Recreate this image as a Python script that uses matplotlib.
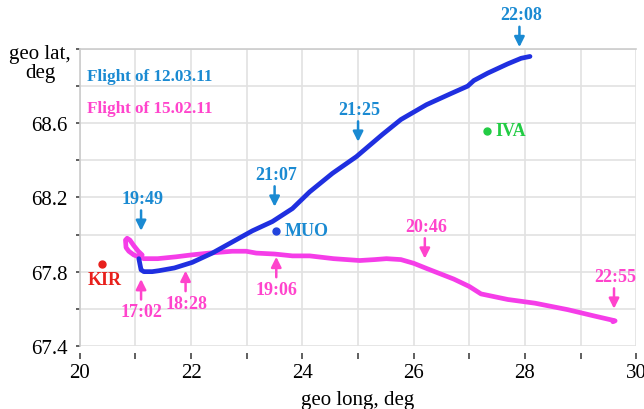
import matplotlib
matplotlib.use("Agg")
import matplotlib.pyplot as plt

# Flight of 12.03.11 (blue)
blue_lon = [21.06, 21.08, 21.10, 21.15, 21.30, 21.42, 21.70, 22.02, 22.38, 22.74, 23.10,
            23.46, 23.82, 24.13, 24.54, 24.97, 25.44, 25.77, 26.23, 26.67, 26.97, 27.08,
            27.33, 27.69, 27.93, 28.09]
blue_lat = [67.87, 67.84, 67.81, 67.80, 67.80, 67.805, 67.82, 67.85, 67.90, 67.96, 68.02,
            68.07, 68.14, 68.23, 68.33, 68.42, 68.54, 68.62, 68.70, 68.76, 68.80, 68.83,
            68.87, 68.92, 68.95, 68.96]

# Flight of 15.02.11 (magenta)
mag_lon = [21.12, 21.05, 20.97, 20.90, 20.85, 20.82, 20.83, 20.88, 20.97, 21.06, 21.15,
           21.40, 21.73, 22.00, 22.32, 22.74, 22.99, 23.17, 23.50, 23.82, 24.13, 24.56,
           25.03, 25.30, 25.51, 25.77, 26.00, 26.25, 26.72, 27.00, 27.21, 27.69, 28.18,
           28.77, 29.26, 29.55, 29.62, 29.58]
mag_lat = [67.89, 67.91, 67.94, 67.97, 67.98, 67.97, 67.93, 67.91, 67.89, 67.88, 67.87,
           67.87, 67.88, 67.89, 67.90, 67.91, 67.91, 67.90, 67.895, 67.885, 67.885, 67.87,
           67.86, 67.865, 67.87, 67.865, 67.845, 67.815, 67.76, 67.72, 67.68, 67.65, 67.63,
           67.595, 67.56, 67.54, 67.535, 67.53]

# Stations
st_names = ["KIR", "MUO", "IVA"]
st_lon = [20.40, 23.53, 27.32]
st_lat = [67.84, 68.02, 68.56]

# Time marks
blue_times = ["19:49", "21:07", "21:25", "22:08"]
blue_t_lon = [21.1, 23.5, 25.0, 27.9]
blue_t_lat = [68.02, 68.15, 68.50, 69.01]

mag_up_times = ["17:02", "18:28", "19:06"]
mag_up_lon = [21.1, 21.9, 23.53]
mag_up_lat = [67.76, 67.805, 67.88]

mag_dn_times = ["20:46", "22:55"]
mag_dn_lon = [26.2, 29.6]
mag_dn_lat = [67.87, 67.60]

BLUE_TRACK = "#1f2fe0"
BLUE_TXT = "#1a8ad2"
MAG = "#f53de8"
MAG_TXT = "#ff44cc"

plt.rcParams['font.family'] = ['Liberation Serif', 'DejaVu Serif']

fig = plt.figure(figsize=(6.44, 4.10), dpi=100)
ax = fig.add_axes([0.124, 0.154, 0.864, 0.724])

ax.set_xlim(20, 30)
ax.set_ylim(67.4, 69.0)
ax.set_xticks([20 + i for i in range(11)])
ax.set_xticklabels([str(20 + i) if i % 2 == 0 else "" for i in range(11)])
yt = [67.4 + 0.2 * i for i in range(9)]
ax.set_yticks(yt)
ax.set_yticklabels(["%.1f" % v if i % 2 == 0 and i < 8 else "" for i, v in enumerate(yt)])
ax.grid(True, color="#e2e2e2", lw=1.2)
ax.set_axisbelow(True)
ax.spines["right"].set_visible(False)
ax.spines["bottom"].set_visible(False)
ax.spines["bottom"].set_position(("outward", 5))
for s in ["top", "left"]:
    ax.spines[s].set_color("#cccccc")
    ax.spines[s].set_linewidth(1.2)
ax.tick_params(axis="both", labelsize=15, length=4, width=1.2, color="#444444")
ax.tick_params(axis="x", pad=3)
ax.tick_params(axis="y", length=3, pad=6)

ax.plot(mag_lon, mag_lat, color=MAG, lw=3.4, solid_joinstyle="round", solid_capstyle="round")
ax.plot(blue_lon, blue_lat, color=BLUE_TRACK, lw=3.4, solid_joinstyle="round", solid_capstyle="round")

# stations
st_col = ["#e8201c", "#2244dd", "#22cc44"]
st_txt_col = ["#e8201c", "#1a8ad2", "#22cc44"]
for n, x, y, c, tc in zip(st_names, st_lon, st_lat, st_col, st_txt_col):
    ax.plot(x, y, "o", color=c, ms=5)
    if n == "KIR":
        ax.text(x + 0.04, y - 0.035, n, color=tc, fontsize=13, fontweight="bold",
                ha="center", va="top")
    else:
        ax.text(x + 0.15, y, n, color=tc, fontsize=13, fontweight="bold",
                ha="left", va="center")

arrow_len = 0.11
text_gap = 0.065

def down_mark(lbl, x, y, col, tcol):
    ax.annotate("", xy=(x, y), xytext=(x, y + arrow_len),
                arrowprops=dict(arrowstyle="-|>", color=col, lw=1.8, mutation_scale=15,
                                shrinkA=0, shrinkB=0), annotation_clip=False)
    ax.text(x + 0.03, y + arrow_len + text_gap, lbl, color=tcol, fontsize=13,
            fontweight="bold", ha="center", va="center", clip_on=False)

def up_mark(lbl, x, y, col, tcol):
    ax.annotate("", xy=(x, y), xytext=(x, y - arrow_len),
                arrowprops=dict(arrowstyle="-|>", color=col, lw=1.8, mutation_scale=15,
                                shrinkA=0, shrinkB=0), annotation_clip=False)
    ax.text(x + 0.01, y - arrow_len - text_gap, lbl, color=tcol, fontsize=13,
            fontweight="bold", ha="center", va="center", clip_on=False)

for l, x, y in zip(blue_times, blue_t_lon, blue_t_lat):
    down_mark(l, x, y, BLUE_TXT, BLUE_TXT)
for l, x, y in zip(mag_up_times, mag_up_lon, mag_up_lat):
    up_mark(l, x, y, MAG_TXT, MAG_TXT)
for l, x, y in zip(mag_dn_times, mag_dn_lon, mag_dn_lat):
    down_mark(l, x, y, MAG_TXT, MAG_TXT)

# legend-like titles
ax.text(0.012, 0.91, "Flight of 12.03.11", transform=ax.transAxes, color=BLUE_TXT,
        fontsize=12.3, fontweight="bold", ha="left", va="center")
ax.text(0.012, 0.80, "Flight of 15.02.11", transform=ax.transAxes, color=MAG_TXT,
        fontsize=12.3, fontweight="bold", ha="left", va="center")

fig.text(0.11, 0.845, "geo lat,\ndeg", fontsize=15, ha="right", va="center",
         multialignment="center", linespacing=1.0)
ax.set_xlabel("geo long, deg", fontsize=15, labelpad=6)

fig.savefig("out.png", dpi=100)
